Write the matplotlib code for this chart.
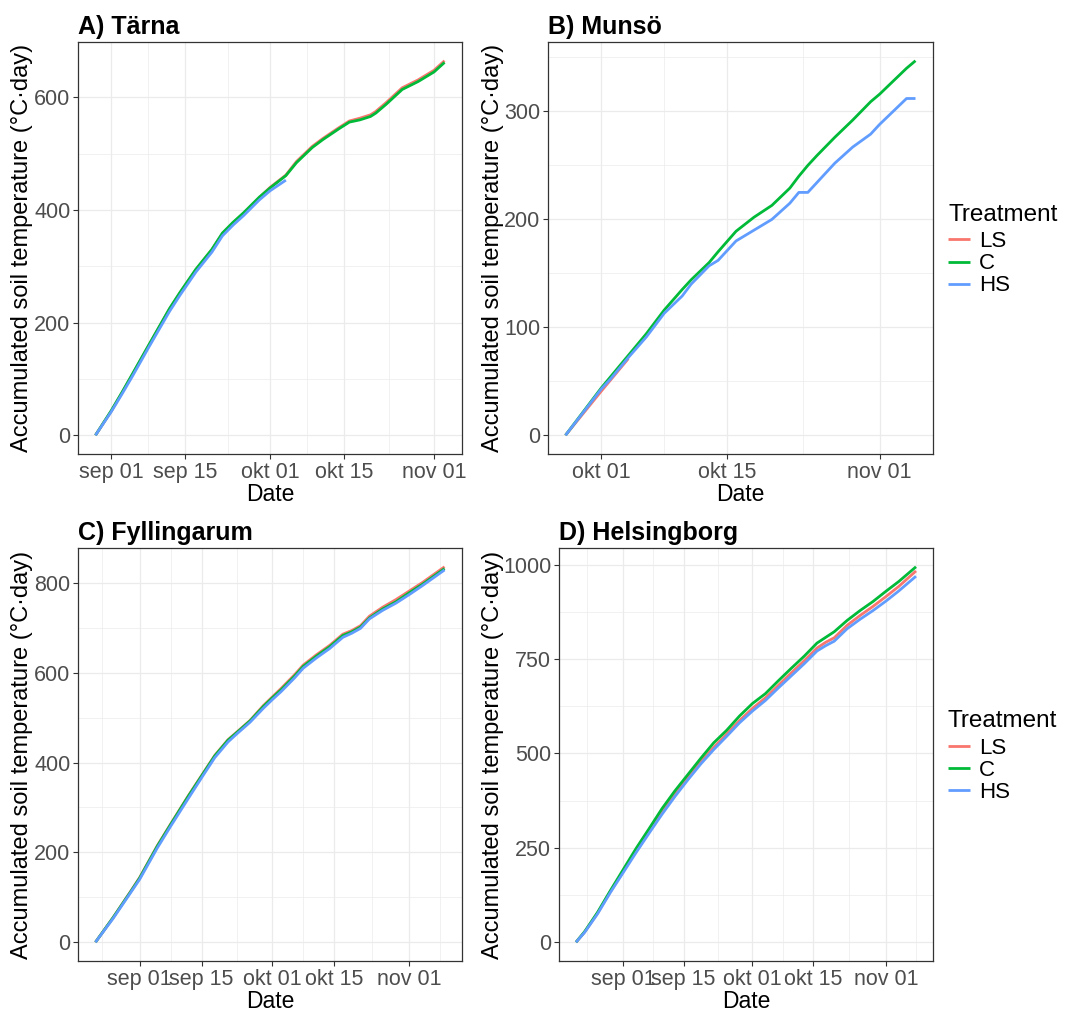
import matplotlib
matplotlib.use("Agg")
import matplotlib.pyplot as plt
import matplotlib.dates as mdates
import pandas as pd

plt.rcParams["font.family"] = ["Liberation Sans", "DejaVu Sans"]

treatments = ["LS", "C", "HS"]
colors = {"LS": "#F8766D", "C": "#00BA38", "HS": "#619CFF"}

# A) Tärna
tarna_dates = ["2019-08-29", "2019-09-01", "2019-09-03", "2019-09-05", "2019-09-08",
               "2019-09-12", "2019-09-14", "2019-09-17", "2019-09-20", "2019-09-22",
               "2019-09-24", "2019-09-26", "2019-09-29", "2019-10-01", "2019-10-04",
               "2019-10-06", "2019-10-09", "2019-10-11", "2019-10-14", "2019-10-16",
               "2019-10-18", "2019-10-20", "2019-10-21", "2019-10-23", "2019-10-26",
               "2019-10-29", "2019-11-01", "2019-11-03"]
tarna_ls = [0, 43, 75, 108, 158, 224, 253, 294, 329, 358, 377, 394, 422, 440, 462,
            486, 513, 527, 546, 558, 563, 569, 575, 591, 617, 631, 648, 665]
tarna_c = [0, 44, 76, 109, 159, 225, 254, 295, 330, 359, 378, 395, 423, 439, 461,
           484, 511, 525, 544, 556, 560, 566, 572, 588, 614, 628, 645, 662]
tarna_hs = [0, 42, 73, 105, 155, 220, 249, 290, 325, 354, 373, 390, 418, 434, 453]

# B) Munsö
munso_dates = ["2019-09-27", "2019-10-01", "2019-10-02", "2019-10-04", "2019-10-06",
               "2019-10-08", "2019-10-10", "2019-10-11", "2019-10-13", "2019-10-14",
               "2019-10-16", "2019-10-18", "2019-10-20", "2019-10-22", "2019-10-23",
               "2019-10-24", "2019-10-25", "2019-10-27", "2019-10-29", "2019-10-31",
               "2019-11-01", "2019-11-03", "2019-11-04", "2019-11-05"]
munso_ls = [0, 41, 51, 71]
munso_c = [0, 44, 54, 74, 94, 116, 135, 144, 160, 170, 189, 202, 213, 229, 240,
           250, 259, 276, 292, 309, 316, 332, 340, 347]
munso_hs = [0, 43, 52, 72, 91, 113, 129, 140, 157, 162, 180, 190, 200, 215, 225,
            225, 234, 252, 267, 279, 288, 304, 312, 312]

# C) Fyllingarum
fyll_dates = ["2019-08-22", "2019-08-26", "2019-08-30", "2019-09-01", "2019-09-05",
              "2019-09-08", "2019-09-12", "2019-09-15", "2019-09-18", "2019-09-21",
              "2019-09-23", "2019-09-26", "2019-09-29", "2019-10-01", "2019-10-03",
              "2019-10-06", "2019-10-08", "2019-10-11", "2019-10-14", "2019-10-17",
              "2019-10-19", "2019-10-21", "2019-10-23", "2019-10-26", "2019-10-29",
              "2019-11-01", "2019-11-04", "2019-11-09"]
fyll_ls = [0, 55, 114, 144, 215, 263, 326, 371, 416, 451, 468, 494, 527, 546, 565,
           595, 617, 640, 661, 686, 694, 705, 726, 746, 763, 782, 801, 836]
fyll_c = [0, 55, 113, 143, 214, 262, 325, 370, 415, 450, 467, 493, 525, 544, 562,
          592, 614, 637, 658, 683, 691, 702, 722, 742, 758, 778, 797, 832]
fyll_hs = [0, 53, 111, 140, 210, 258, 320, 366, 411, 446, 464, 490, 521, 540, 558,
           588, 610, 633, 654, 679, 688, 699, 720, 739, 755, 774, 794, 829]

# D) Helsingborg
hbg_dates = ["2019-08-21", "2019-08-23", "2019-08-26", "2019-08-29", "2019-09-01",
             "2019-09-04", "2019-09-07", "2019-09-10", "2019-09-13", "2019-09-16",
             "2019-09-19", "2019-09-22", "2019-09-25", "2019-09-28", "2019-10-01",
             "2019-10-04", "2019-10-07", "2019-10-10", "2019-10-13", "2019-10-16",
             "2019-10-18", "2019-10-20", "2019-10-23", "2019-10-26", "2019-10-29",
             "2019-11-01", "2019-11-04", "2019-11-08"]
hbg_ls = [0, 27, 77, 134, 188, 242, 293, 344, 391, 436, 478, 516, 551, 587, 619,
          647, 680, 713, 745, 779, 794, 806, 839, 865, 889, 915, 942, 983]
hbg_c = [0, 28, 79, 137, 193, 249, 301, 354, 401, 444, 487, 528, 561, 599, 632,
         658, 692, 725, 757, 792, 807, 822, 852, 878, 902, 929, 955, 994]
hbg_hs = [0, 26, 75, 132, 185, 238, 289, 339, 386, 430, 472, 510, 545, 581, 612,
          640, 673, 705, 737, 771, 785, 797, 830, 855, 878, 903, 930, 969]

# date breaks (incl. neighbours outside the range, for the minor grid)
date_breaks = ["2019-08-15", "2019-09-01", "2019-09-15", "2019-10-01",
               "2019-10-15", "2019-11-01", "2019-11-15"]
date_labels = ["aug 15", "sep 01", "sep 15", "okt 01", "okt 15", "nov 01", "nov 15"]

tarna_yticks = [0, 200, 400, 600]
munso_yticks = [0, 100, 200, 300]
fyll_yticks = [0, 200, 400, 600, 800]
hbg_yticks = [0, 250, 500, 750, 1000]

panels = [
    ("A) Tärna", tarna_dates, {"LS": tarna_ls, "C": tarna_c, "HS": tarna_hs}, tarna_yticks, False),
    ("B) Munsö", munso_dates, {"LS": munso_ls, "C": munso_c, "HS": munso_hs}, munso_yticks, True),
    ("C) Fyllingarum", fyll_dates, {"LS": fyll_ls, "C": fyll_c, "HS": fyll_hs}, fyll_yticks, False),
    ("D) Helsingborg", hbg_dates, {"LS": hbg_ls, "C": hbg_c, "HS": hbg_hs}, hbg_yticks, True),
]

W, H = 1065, 1014
# panel boxes in pixels: left, top, right, bottom; then x of the y-title's right edge
boxes = [(78, 42, 462, 454, 33), (548, 42, 933, 454, 504),
         (78, 548, 462, 961, 33), (559, 548, 933, 961, 504)]

fig = plt.figure(figsize=(W / 100, H / 100), dpi=100)

grey_text = "#4D4D4D"
frame = "#333333"
grid = "#EBEBEB"

for (title, dates, series, yticks, show_legend), (l, t, r, b, ylab_x) in zip(panels, boxes):
    ax = fig.add_axes([l / W, 1 - b / H, (r - l) / W, (b - t) / H])
    d = pd.to_datetime(dates)
    for tr in treatments:
        vals = series[tr]
        ax.plot(d[:len(vals)], vals, color=colors[tr], lw=2.0,
                solid_capstyle="butt", label=tr, zorder=3)

    ax.margins(x=0.05, y=0.05)
    xlo, xhi = ax.get_xlim()
    ylo, yhi = ax.get_ylim()

    brk = mdates.date2num(pd.to_datetime(date_breaks))
    ax.set_xticks(brk)
    ax.set_xticklabels(date_labels)
    ax.set_xticks([(a + c) / 2 for a, c in zip(brk[:-1], brk[1:])], minor=True)

    ystep = yticks[1] - yticks[0]
    ybrk = [yticks[0] - ystep] + yticks + [yticks[-1] + ystep]
    ax.set_yticks(yticks)
    ax.set_yticks([(a + c) / 2 for a, c in zip(ybrk[:-1], ybrk[1:])], minor=True)

    ax.set_xlim(xlo, xhi)
    ax.set_ylim(ylo, yhi)

    ax.grid(True, which="major", color=grid, lw=0.9)
    ax.grid(True, which="minor", color=grid, lw=0.5)
    ax.set_axisbelow(True)

    ax.tick_params(which="major", length=3.5, width=0.8, color=frame,
                   labelsize=15.5, labelcolor=grey_text, pad=2)
    ax.tick_params(which="minor", length=0)
    for s in ax.spines.values():
        s.set_color(frame)
        s.set_linewidth(0.9)

    ax.set_xlabel("Date", fontsize=16.5, labelpad=0)
    ax.set_ylabel("Accumulated soil temperature (°C·day)", fontsize=17)
    ax.yaxis.set_label_coords(ylab_x / W, 1 - (t + b) / 2 / H, transform=fig.transFigure)
    ax.set_title(title, loc="left", fontsize=18, fontweight="bold", pad=6)

    if show_legend:
        leg = ax.legend(title="Treatment", loc="center left", bbox_to_anchor=(1.039, 0.495),
                        frameon=False, fontsize=16, title_fontsize=17.5,
                        handlelength=1.0, handletextpad=0.4, labelspacing=0.05,
                        borderaxespad=0, borderpad=0, alignment="left")
        leg._legend_box.sep = 4

fig.savefig("out.png", dpi=100)
